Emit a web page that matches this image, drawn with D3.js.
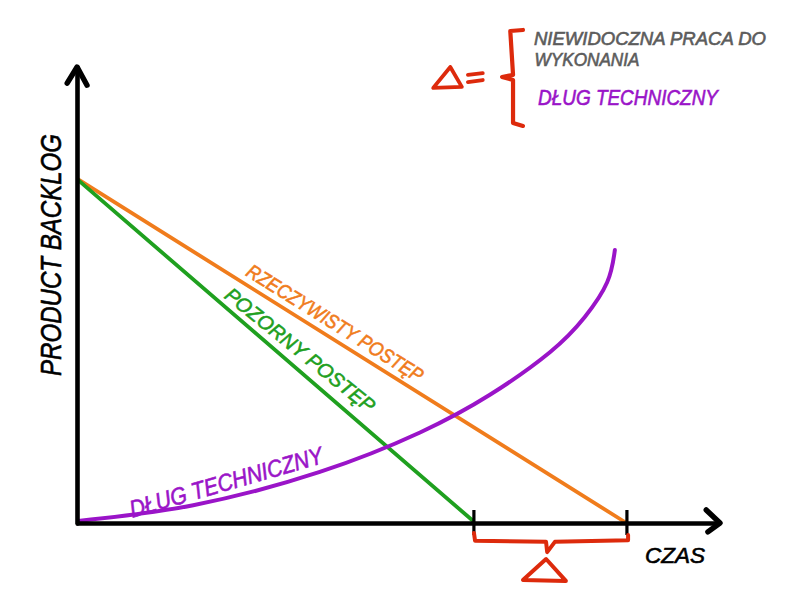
<!DOCTYPE html>
<html><head><meta charset="utf-8">
<script src="https://cdn.jsdelivr.net/npm/d3@7"></script>
<style>html,body{margin:0;background:#fff}svg{display:block}text{font-family:"Liberation Sans Narrow","Liberation Sans",sans-serif;font-style:italic}</style>
</head><body><script>
// Series: [time, backlog]
const apparentProgress = [[0.4,100],[72,0.8]];
const realProgress = [[0.4,100.2],[100,0]];
const technicalDebt = [[0.4,0.6],[21.3,5.2],[44.3,14.9],[62.5,26.4],[75.2,37.4],[86.1,49.8],[92.4,60],[96.5,70.2],[97.9,79.6]];
const timeTicks = [72.2,100];
// Sketched annotations, in the same data units
const xArrowHead = [[114.5,3.8],[117,0],[114.8,-2.6]];
const yArrowHead = [[-1.6,128.3],[0.2,133],[2,127.7]];
const gapBrace = [[72.3,-2.9],[72.5,-5.2],[85.4,-5.5],[85.6,-8.5],[87,-5.5],[100.3,-5],[100.3,-3.5]];
const gapDelta = [[85.4,-10.5],[81.2,-16.6],[89,-16.9],[85.4,-10.5]];
const keyDelta = [[68,133],[64.9,126.9],[70.1,127.2],[68,133]];
const keyEqualTop = [[71.2,130.7],[73.9,131.2]];
const keyEqualBottom = [[71.2,128.6],[73.9,129.2]];
const keyBrace = [[81.2,143.8],[78.9,143.5],[79.4,130.7],[77.4,130.1],[79.4,129.2],[79.4,116.7],[81.2,115.8]];
const labelTexts = ["PRODUCT BACKLOG","CZAS","RZECZYWISTY POSTĘP","POZORNY POSTĘP","DŁUG TECHNICZNY","NIEWIDOCZNA PRACA DO","WYKONANIA"];

const colors = {orange:"#f07c1c",green:"#1fa01f",purple:"#9a14c8",red:"#dd2a0c",gray:"#5c5c5c",black:"#000"};
const W=795,H=596;
const svg=d3.select("body").append("svg").attr("width",W).attr("height",H);
const x=d3.scaleLinear().domain([0,117]).range([76,720]);
const y=d3.scaleLinear().domain([0,133]).range([523,67]);
const line=d3.line().x(d=>x(d[0])).y(d=>y(d[1]));
const draw=(data,color,w,curve)=>svg.append("path").attr("d",(curve?line.curve(curve):line.curve(d3.curveLinear))(data))
  .attr("fill","none").attr("stroke",color).attr("stroke-width",w).attr("stroke-linecap","round").attr("stroke-linejoin","round");

draw(realProgress,colors.orange,3.8);
draw(apparentProgress,colors.green,3.8);
draw(technicalDebt,colors.purple,4,d3.curveNatural);

const gx=svg.append("g").attr("transform",`translate(0,${y(0)})`)
  .call(d3.axisBottom(x).tickValues(timeTicks).tickFormat("").tickSize(12).tickSizeOuter(0));
gx.select(".domain").attr("stroke","#000").attr("stroke-width",4.6);
gx.selectAll(".tick line").attr("y1",-13).attr("stroke","#000").attr("stroke-width",3.2);
const gy=svg.append("g").attr("transform",`translate(${x(0)+1},0)`)
  .call(d3.axisLeft(y).tickValues([]).tickSizeOuter(0));
gy.select(".domain").attr("stroke","#000").attr("stroke-width",4.6).attr("stroke-linecap","round");
draw(xArrowHead,colors.black,5.4);
draw(yArrowHead,colors.black,5.4);

draw(gapBrace,colors.red,4);
draw(gapDelta,colors.red,4);
draw(keyDelta,colors.red,3.8);
draw(keyEqualTop,colors.red,3.8);
draw(keyEqualBottom,colors.red,3.8);
draw(keyBrace,colors.red,4.2);

function label(t,cx,cy,len,size,color,rot){
  svg.append("text").text(t)
    .attr("transform",`translate(${cx},${cy}) rotate(${rot||0})`)
    .attr("text-anchor","middle").attr("dominant-baseline","central")
    .attr("textLength",len).attr("lengthAdjust","spacingAndGlyphs")
    .attr("font-size",size).attr("fill",color).attr("stroke",color).attr("stroke-width",.6);
}
label(labelTexts[0],51,255,242,29,colors.black,-90);
label(labelTexts[1],675,555,60,22,colors.black);
label(labelTexts[2],335,323,204,20,colors.orange,32);
label(labelTexts[3],300,350,186,20,colors.green,38.8);
label(labelTexts[4],226,482,200,24,colors.purple,-16);
label(labelTexts[5],650,39,232,18,colors.gray);
label(labelTexts[6],587,60,105,18,colors.gray);
label(labelTexts[4],628,97,180,22,colors.purple);
</script></body></html>
